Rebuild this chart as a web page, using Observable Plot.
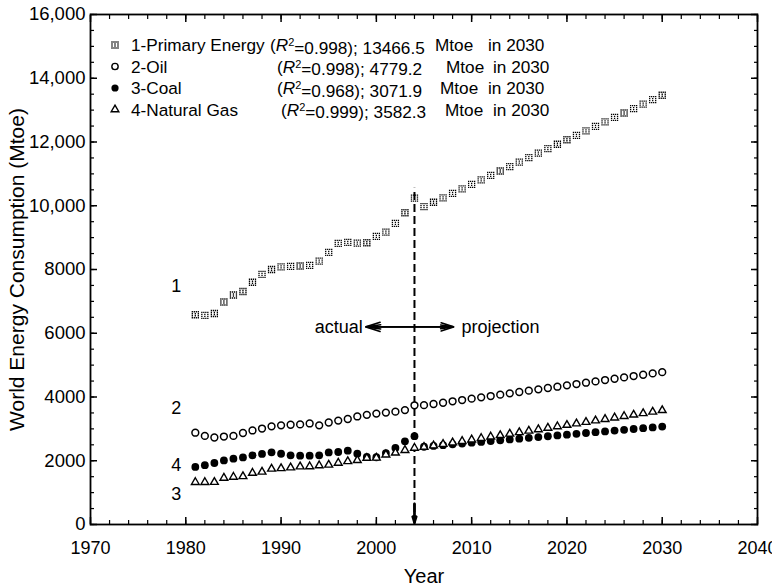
<!DOCTYPE html>
<html>
<head>
<meta charset="utf-8">
<script src="https://cdn.jsdelivr.net/npm/d3@7"></script>
<script src="https://cdn.jsdelivr.net/npm/@observablehq/plot@0.6"></script>
<style>
  body { margin: 0; background: #fff; }
  #chart { width: 772px; height: 588px; }
  svg text { font-family: "Liberation Sans", Arial, Helvetica, sans-serif; }
</style>
</head>
<body>
<div id="chart"></div>
<script>
// ---------------- data ----------------
const years = [1981,1982,1983,1984,1985,1986,1987,1988,1989,1990,
  1991,1992,1993,1994,1995,1996,1997,1998,1999,2000,
  2001,2002,2003,2004,2005,2006,2007,2008,2009,2010,
  2011,2012,2013,2014,2015,2016,2017,2018,2019,2020,
  2021,2022,2023,2024,2025,2026,2027,2028,2029,2030];

const primaryEnergy = [6580,6560,6620,6980,7200,7310,7600,7850,8000,8080,
  8100,8110,8130,8260,8540,8820,8850,8830,8840,9040,
  9170,9450,9780,10240,9970,10110,10250,10390,10530,10670,
  10810,10950,11090,11230,11370,11510,11650,11790,11930,12070,
  12210,12350,12490,12630,12770,12910,13050,13190,13330,13466.5];

const oil = [2880,2780,2730,2760,2780,2870,2950,3010,3080,3110,
  3130,3140,3170,3110,3200,3260,3310,3390,3440,3480,
  3510,3540,3590,3740,3745,3780,3820,3865,3905,3948,
  3990,4030,4073,4115,4157,4198,4240,4282,4323,4365,
  4407,4448,4490,4532,4573,4615,4657,4698,4740,4779.2];

const coal = [1805,1860,1930,2010,2065,2105,2170,2215,2265,2220,
  2170,2160,2160,2170,2260,2275,2315,2220,2120,2110,
  2240,2400,2610,2770,2440,2466,2490,2516,2541,2566,
  2592,2617,2642,2668,2693,2718,2743,2769,2794,2819,
  2845,2870,2895,2920,2946,2971,2996,3022,3047,3071.9];

const naturalGas = [1325,1325,1330,1460,1490,1510,1615,1650,1745,1760,
  1785,1815,1820,1850,1870,1930,1980,2015,2085,2090,
  2190,2250,2330,2400,2430,2476,2522,2568,2614,2660,
  2706,2752,2798,2844,2890,2936,2982,3028,3074,3120,
  3166,3212,3258,3304,3350,3396,3442,3488,3534,3582.3];

const xTicks = [1970,1980,1990,2000,2010,2020,2030,2040];
const yTicks = [0,2000,4000,6000,8000,10000,12000,14000,16000];
const yTickLabels = ["0","2000","4000","6000","8000","10,000","12,000","14,000","16,000"];

const legendNames = ["1-Primary Energy","2-Oil","3-Coal","4-Natural Gas"];
const legendR2 = ["0.998","0.998","0.968","0.999"];
const legendValues2030 = ["13466.5","4779.2","3071.9","3582.3"];

const seriesNumberLabels = ["1","2","4","3"];
const seriesNumberYears = [1979,1979,1979,1979];
const seriesNumberValues = [7490,3660,1870,960];

const projectionYear = 2004;
const dashTopValue = 10550;
const arrowValue = 6200;
const arrowLeftYear = 1998.9;
const arrowRightYear = 2008.1;

// ---------------- build tables ----------------
const toRows = (vals) => years.map((year, i) => ({year, value: vals[i]}));
const primaryRows = toRows(primaryEnergy);
const oilRows = toRows(oil);
const coalRows = toRows(coal);
const gasRows = toRows(naturalGas);
const numberRows = seriesNumberLabels.map((label, i) => ({label, year: seriesNumberYears[i], value: seriesNumberValues[i]}));

// dotted marker for primary energy
const dottedSquare = {
  draw(context) {
    const pts = [[-3,-3],[-1,-3],[1,-3],[3,-3],[-3,3],[-1,3],[1,3],[3,3],[-3,-1],[-3,1],[3,-1],[3,1],[0,-1],[0,1]];
    for (const [x, y] of pts) context.rect(x - 0.65, y - 0.65, 1.3, 1.3);
  }
};

const font = "Liberation Sans, Arial, Helvetica, sans-serif";
const minorX = d3.range(1970, 2041, 2);
const minorY = d3.range(0, 16001, 500);

const plot = Plot.plot({
  width: 772,
  height: 588,
  marginLeft: 90,
  marginRight: 15,
  marginTop: 14,
  marginBottom: 64,
  style: {fontFamily: font, fontSize: "18px", color: "#000", background: "#fff"},
  x: {domain: [1970, 2040]},
  y: {domain: [0, 16000]},
  marks: [
    // tick labels
    Plot.axisX({ticks: xTicks, tickSize: 0, tickPadding: 17, tickFormat: d => String(d), label: null, fontSize: 18}),
    Plot.axisY({ticks: yTicks, tickSize: 0, tickPadding: 5, tickFormat: d => yTickLabels[yTicks.indexOf(d)], label: null, fontSize: 18.5}),
    // inward major ticks, all four sides
    Plot.axisX({ticks: xTicks, anchor: "bottom", tickSize: 7, dy: -7, fill: "none", label: null, strokeWidth: 1.5}),
    Plot.axisX({ticks: xTicks, anchor: "top", tickSize: 7, dy: 7, fill: "none", label: null, strokeWidth: 1.5}),
    Plot.axisY({ticks: yTicks, anchor: "left", tickSize: 7, dx: 7, fill: "none", label: null, strokeWidth: 1.5}),
    Plot.axisY({ticks: yTicks, anchor: "right", tickSize: 7, dx: -7, fill: "none", label: null, strokeWidth: 1.5}),
    // inward minor ticks
    Plot.axisX({ticks: minorX, anchor: "bottom", tickSize: 4, dy: -4, fill: "none", label: null, strokeWidth: 1.2}),
    Plot.axisX({ticks: minorX, anchor: "top", tickSize: 4, dy: 4, fill: "none", label: null, strokeWidth: 1.2}),
    Plot.axisY({ticks: minorY, anchor: "left", tickSize: 4, dx: 4, fill: "none", label: null, strokeWidth: 1.2}),
    Plot.axisY({ticks: minorY, anchor: "right", tickSize: 4, dx: -4, fill: "none", label: null, strokeWidth: 1.2}),
    Plot.frame({stroke: "#000", strokeWidth: 1.8}),
    // axis titles
    Plot.text(["World Energy Consumption (Mtoe)"], {text: d => d, frameAnchor: "left", textAnchor: "middle", lineAnchor: "middle", rotate: -90, dx: -73, fontSize: 21}),
    Plot.text(["Year"], {text: d => d, frameAnchor: "bottom", textAnchor: "middle", lineAnchor: "middle", dy: 52, fontSize: 20}),
    // projection divider
    Plot.ruleX([projectionYear], {y1: 0, y2: dashTopValue, stroke: "#000", strokeWidth: 2, strokeDasharray: "8,4"}),
    Plot.arrow([projectionYear], {x1: d => d, x2: d => d, y1: 650, y2: 60, stroke: "#000", strokeWidth: 2.5, headLength: 15, headAngle: 34}),
    Plot.arrow([projectionYear], {x1: d => d, x2: d => d, y1: 650, y2: 60, stroke: "#000", strokeWidth: 2, headLength: 15, headAngle: 14}),
    Plot.arrow([arrowLeftYear, arrowRightYear], {x1: projectionYear, x2: d => d, y1: arrowValue, y2: arrowValue, stroke: "#000", strokeWidth: 1.6, headLength: 14, headAngle: 36}),
    Plot.arrow([arrowLeftYear, arrowRightYear], {x1: projectionYear, x2: d => d, y1: arrowValue, y2: arrowValue, stroke: "#000", strokeWidth: 1.6, headLength: 14, headAngle: 16}),
    Plot.text([arrowLeftYear], {x: d => d, y: arrowValue, text: () => "actual", textAnchor: "end", dx: -3, fontSize: 18}),
    Plot.text([arrowRightYear], {x: d => d, y: arrowValue, text: () => "projection", textAnchor: "start", dx: 8, fontSize: 18}),
    // series number labels
    Plot.text(numberRows, {x: "year", y: "value", text: "label", fontSize: 18}),
    // data
    Plot.dot(primaryRows, {x: "year", y: "value", symbol: dottedSquare, r: 4, fill: "#000", stroke: "none"}),
    Plot.dot(oilRows, {x: "year", y: "value", symbol: "circle", r: 3.4, stroke: "#000", strokeWidth: 1.5, fill: "#fff"}),
    Plot.dot(coalRows, {x: "year", y: "value", symbol: "circle", r: 3.9, fill: "#000", stroke: "none"}),
    Plot.dot(gasRows, {x: "year", y: "value", symbol: "triangle", r: 2.9, stroke: "#000", strokeWidth: 1.4, fill: "#fff"})
  ]
});

document.getElementById("chart").appendChild(plot);

// ---------------- legend (inside plot, top-left) ----------------
const svg = d3.select(plot);
const lg = svg.append("g")
  .attr("font-family", font)
  .attr("font-size", 17.2)
  .attr("fill", "#000")
  .attr("text-anchor", "start");
const rowY = [45, 66.5, 88, 109.5];
const statX = [270, 277, 277, 281];
const mtoeX = [435, 446, 440, 445];
const inX = [488, 493, 488, 493];
const symbols = [dottedSquare, d3.symbolCircle, d3.symbolCircle, d3.symbolTriangle];
const symSize = [Math.PI * 16, Math.PI * 10, Math.PI * 13, Math.PI * 8];
legendNames.forEach((name, i) => {
  const y = rowY[i];
  const sym = lg.append("path")
    .attr("transform", `translate(115,${y})`)
    .attr("d", d3.symbol(symbols[i], symSize[i])());
  if (i === 0 || i === 2) sym.attr("fill", "#000");
  else sym.attr("fill", "#fff").attr("stroke", "#000").attr("stroke-width", 1.4);
  lg.append("text").attr("x", 131).attr("y", y).attr("dy", "0.35em").text(name);
  const t = lg.append("text").attr("x", statX[i]).attr("y", y).attr("dy", "0.35em");
  t.append("tspan").text("(");
  t.append("tspan").attr("font-style", "italic").text("R");
  t.append("tspan").attr("font-size", 11).attr("dy", "-0.42em").text("2");
  t.append("tspan").attr("dy", "0.42em").text(`=${legendR2[i]}); ${legendValues2030[i]}`);
  lg.append("text").attr("x", mtoeX[i]).attr("y", y).attr("dy", "0.35em").text("Mtoe");
  lg.append("text").attr("x", inX[i]).attr("y", y).attr("dy", "0.35em").text("in 2030");
});
</script>
</body>
</html>
